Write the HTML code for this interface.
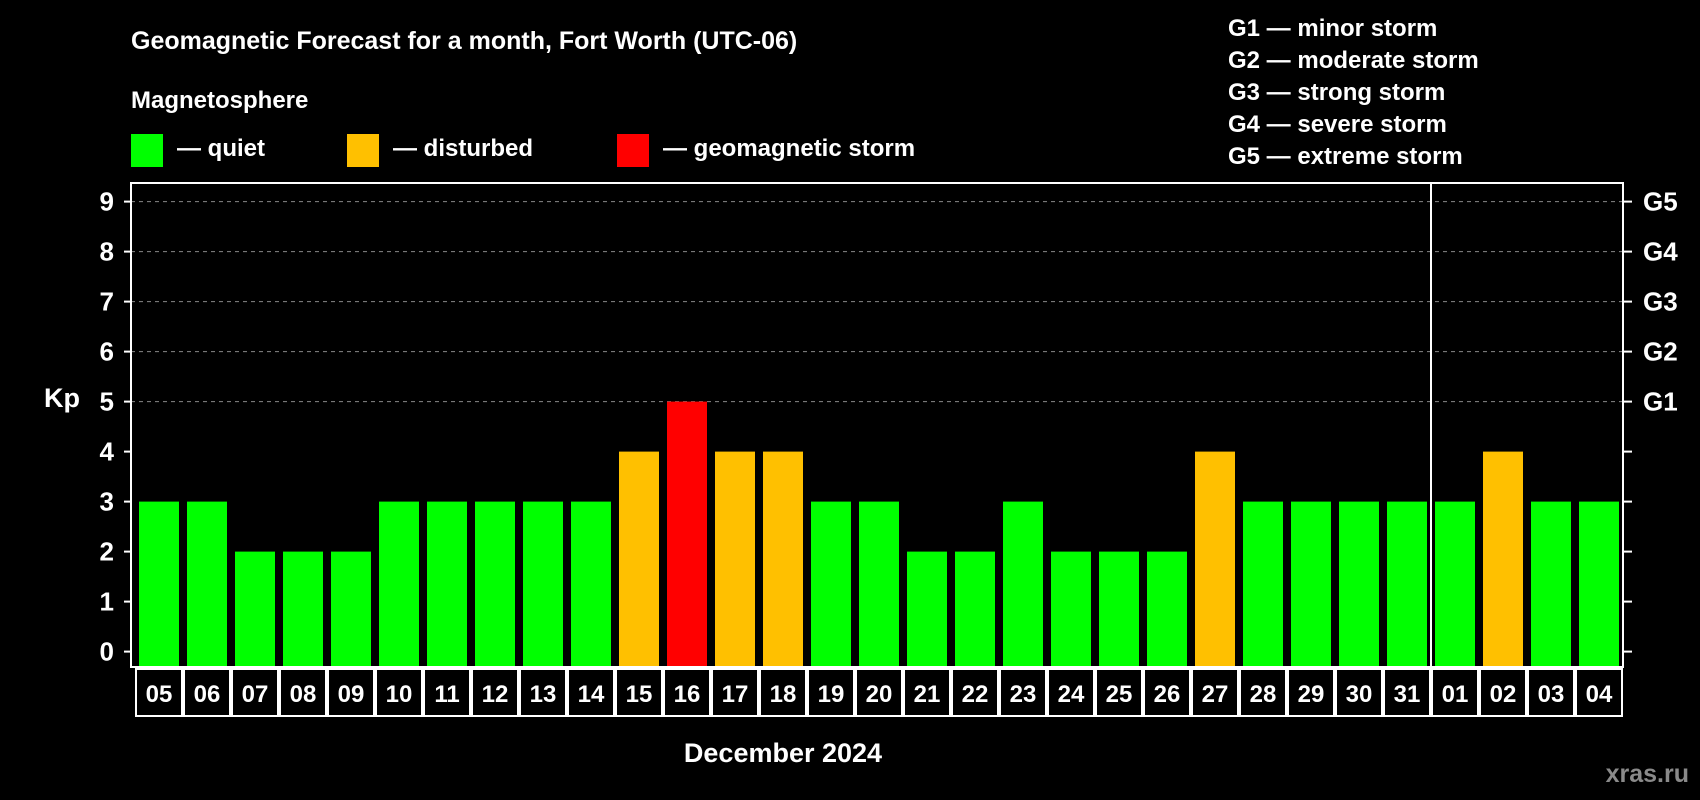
<!DOCTYPE html>
<html><head><meta charset="utf-8"><style>
html,body{margin:0;padding:0;background:#000;}
svg{display:block;font-family:"Liberation Sans",Arial,sans-serif;font-weight:bold;}
</style></head><body>
<svg id="chart" width="1700" height="800" viewBox="0 0 1700 800" xmlns="http://www.w3.org/2000/svg">
<rect width="1700" height="800" fill="#000"/>
<text x="131" y="49" fill="#fff" font-size="25">Geomagnetic Forecast for a month, Fort Worth (UTC-06)</text>
<text x="131" y="108" fill="#fff" font-size="24">Magnetosphere</text>
<g><rect x="131" y="134" width="32" height="33" fill="#00ff00"/><text x="177" y="156" fill="#fff" font-size="24">— quiet</text></g>
<g><rect x="347" y="134" width="32" height="33" fill="#ffc000"/><text x="393" y="156" fill="#fff" font-size="24">— disturbed</text></g>
<g><rect x="617" y="134" width="32" height="33" fill="#ff0000"/><text x="663" y="156" fill="#fff" font-size="24">— geomagnetic storm</text></g>
<g fill="#fff" font-size="24">
<text x="1228" y="36">G1 — minor storm</text>
<text x="1228" y="68">G2 — moderate storm</text>
<text x="1228" y="100">G3 — strong storm</text>
<text x="1228" y="132">G4 — severe storm</text>
<text x="1228" y="164">G5 — extreme storm</text>
</g>
<text x="62" y="407" fill="#fff" font-size="27" text-anchor="middle">Kp</text>
<text x="783" y="762" fill="#fff" font-size="27" text-anchor="middle">December 2024</text>
<text x="1689" y="782" fill="#8a8a8a" font-size="25" text-anchor="end">xras.ru</text>
<g id="grid"></g><g id="bars"></g><g id="axes"></g>
</svg>
<script>
const days=["05","06","07","08","09","10","11","12","13","14","15","16","17","18","19","20","21","22","23","24","25","26","27","28","29","30","31","01","02","03","04"];
const kp=[3,3,2,2,2,3,3,3,3,3,4,5,4,4,3,3,2,2,3,2,2,2,4,3,3,3,3,3,4,3,3];
const yTicks=[0,1,2,3,4,5,6,7,8,9];
const gLabels=["G1","G2","G3","G4","G5"];
const monthBreakIndex=27;
const NS="http://www.w3.org/2000/svg";
const L=131,R=1623,T=183,B=667,X0=159,STEP=48,BW=40;
const y=v=>651.6-v*50;
const x=i=>X0+i*STEP;
function mk(tag,attrs,parent){const e=document.createElementNS(NS,tag);for(const k in attrs)e.setAttribute(k,attrs[k]);parent.appendChild(e);return e;}
const grid=document.getElementById('grid'),bars=document.getElementById('bars'),axes=document.getElementById('axes');
for(let v=5;v<=9;v++){const g=mk('line',{x1:L,x2:R,y1:y(v),y2:y(v),stroke:'#888','stroke-width':1,'stroke-dasharray':'4,4'},grid);

}
kp.forEach((v,i)=>{const c=v>=5?'#ff0000':(v>=4?'#ffc000':'#00ff00');
const r=mk('rect',{x:x(i)-BW/2,y:y(v),width:BW,height:y(0)-y(v)+15,fill:c},bars);


const bx=mk('rect',{x:x(i)-STEP/2+1,y:669,width:STEP-2,height:47,fill:'none',stroke:'#fff','stroke-width':2},axes);


const t=mk('text',{x:x(i),y:702,fill:'#fff','font-size':24,'text-anchor':'middle'},axes);t.textContent=days[i];

});
const fr=mk('rect',{x:L,y:T,width:R-L,height:B-T,fill:'none',stroke:'#fff','stroke-width':2},axes);


const sx=(x(monthBreakIndex-1)+x(monthBreakIndex))/2;
const sp=mk('line',{x1:sx,x2:sx,y1:T,y2:B,stroke:'#fff','stroke-width':2},axes);


yTicks.forEach(v=>{mk('line',{x1:L-7,x2:L,y1:y(v),y2:y(v),stroke:'#fff','stroke-width':2},axes);
mk('line',{x1:R,x2:R+9,y1:y(v),y2:y(v),stroke:'#fff','stroke-width':2},axes);
const t=mk('text',{x:114,y:y(v)+9,fill:'#fff','font-size':26,'text-anchor':'end'},axes);t.textContent=v;

});
gLabels.forEach((g,i)=>{const t=mk('text',{x:1643,y:y(i+5)+9,fill:'#fff','font-size':26},axes);t.textContent=g;

});
</script>
</body></html>
